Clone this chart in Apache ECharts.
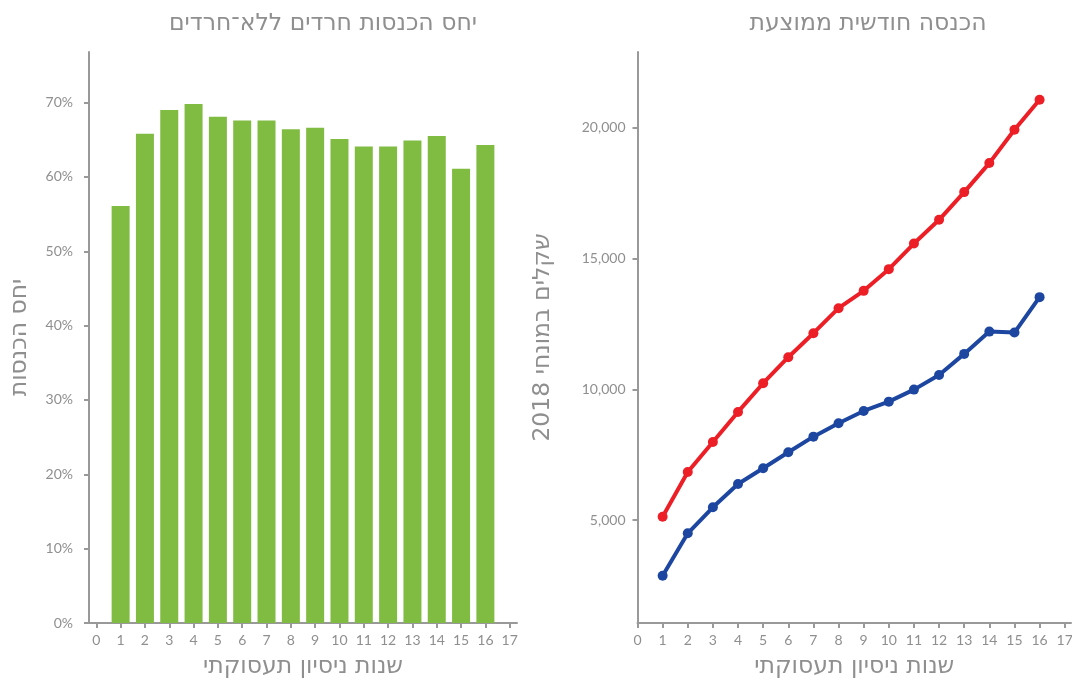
<!DOCTYPE html>
<html>
<head>
<meta charset="utf-8">
<script src="https://cdn.jsdelivr.net/npm/echarts@6/dist/echarts.min.js"></script>
<style>
  html, body { margin: 0; padding: 0; background: #fff; }
  #chart { width: 1072px; height: 680px; }
</style>
</head>
<body>
<div id="chart"></div>
<script>
// data
const years = [1, 2, 3, 4, 5, 6, 7, 8, 9, 10, 11, 12, 13, 14, 15, 16];
const xTicks = [0, 1, 2, 3, 4, 5, 6, 7, 8, 9, 10, 11, 12, 13, 14, 15, 16, 17];
const ratioPct = [56.1, 65.8, 69.0, 69.8, 68.1, 67.6, 67.6, 66.4, 66.6, 65.1, 64.1, 64.1, 64.9, 65.5, 61.1, 64.3];
const pctTicks = [0, 10, 20, 30, 40, 50, 60, 70];
const incomeNonHaredi = [5126, 6837, 7985, 9133, 10231, 11227, 12145, 13102, 13764, 14594, 15574, 16481, 17541, 18651, 19925, 21073];
const incomeHaredi = [2868, 4491, 5486, 6378, 6979, 7591, 8188, 8701, 9171, 9527, 9987, 10549, 11353, 12206, 12168, 13523];
const incomeTicks = [5000, 10000, 15000, 20000];

const gray = '#999999';
const textGray = '#8f8f8f';
const hebFont = "'DejaVu Sans', 'Open Sans', sans-serif";
const numFont = "Lato, 'Open Sans', sans-serif";

const pairs = (xs, ys) => xs.map((x, i) => [x, ys[i]]);

const axisLine = { show: true, onZero: false, lineStyle: { color: gray, width: 2 } };
const axisTick = (vals) => ({ show: true, length: 5, customValues: vals, lineStyle: { color: gray, width: 2 } });
const label = (vals, fmt, margin) => ({
  customValues: vals, formatter: fmt, margin: margin,
  color: textGray, fontFamily: numFont, fontSize: 14
});
const nameStyle = { color: textGray, fontFamily: hebFont, fontSize: 23.5 };
const titleStyle = { color: textGray, fontFamily: hebFont, fontSize: 23.5, fontWeight: 'normal' };

const chart = echarts.init(document.getElementById('chart'));
chart.setOption({
  animation: false,
  backgroundColor: '#fff',
  title: [
    { text: 'יחס הכנסות חרדים ללא־חרדים', left: 318, top: 7, textAlign: 'center', textStyle: titleStyle },
    { text: 'הכנסה חודשית ממוצעת', left: 863, top: 7, textAlign: 'center', textStyle: titleStyle }
  ],
  grid: [
    { left: 89, right: 555, top: 52, bottom: 57, outerBoundsMode: 'none', containLabel: false },
    { left: 637.5, right: 1, top: 52, bottom: 57, outerBoundsMode: 'none', containLabel: false }
  ],
  xAxis: [
    { type: 'value', gridIndex: 0, min: -0.3, max: 17.3,
      name: 'שנות ניסיון תעסוקתי', nameLocation: 'middle', nameGap: 32, nameTextStyle: nameStyle,
      axisLine: axisLine, axisTick: axisTick(xTicks), splitLine: { show: false },
      axisLabel: label(xTicks, v => String(v), 10) },
    { type: 'value', gridIndex: 1, min: 0, max: 17.25,
      name: 'שנות ניסיון תעסוקתי', nameLocation: 'middle', nameGap: 32, nameTextStyle: nameStyle,
      axisLine: axisLine, axisTick: axisTick(xTicks), splitLine: { show: false },
      axisLabel: label(xTicks, v => String(v), 10) }
  ],
  yAxis: [
    { type: 'value', gridIndex: 0, min: 0, max: 76.8,
      name: 'יחס הכנסות', nameLocation: 'middle', nameGap: 57, nameTextStyle: nameStyle,
      axisLine: axisLine, axisTick: axisTick(pctTicks), splitLine: { show: false },
      axisLabel: label(pctTicks, v => v + '%', 16) },
    { type: 'value', gridIndex: 1, min: 1060, max: 22900,
      name: 'שקלים במונחי 2018', nameLocation: 'middle', nameGap: 83, nameTextStyle: nameStyle,
      axisLine: axisLine, axisTick: axisTick(incomeTicks), splitLine: { show: false },
      axisLabel: label(incomeTicks, v => v.toLocaleString('en-US'), 12) }
  ],
  series: [
    { type: 'bar', name: 'יחס הכנסות', xAxisIndex: 0, yAxisIndex: 0,
      data: pairs(years, ratioPct), barWidth: 18,
      itemStyle: { color: '#80bc42' } },
    { type: 'line', name: 'לא־חרדים', xAxisIndex: 1, yAxisIndex: 1,
      data: pairs(years, incomeNonHaredi), symbol: 'circle', symbolSize: 10,
      lineStyle: { color: '#ec1e26', width: 4 }, itemStyle: { color: '#ec1e26' } },
    { type: 'line', name: 'חרדים', xAxisIndex: 1, yAxisIndex: 1,
      data: pairs(years, incomeHaredi), symbol: 'circle', symbolSize: 10,
      lineStyle: { color: '#1c46a0', width: 4 }, itemStyle: { color: '#1c46a0' } }
  ]
});
</script>
</body>
</html>
